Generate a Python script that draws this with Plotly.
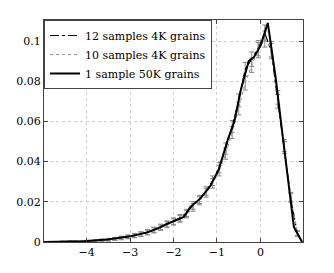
import plotly.graph_objects as go

# 1 sample 50K grains (solid)
x_50k = [-4.98, -4.5, -4.06, -3.52, -2.99, -2.6, -2.37, -2.18, -1.95, -1.76, -1.61, -1.38, -1.15,
         -0.96, -0.75, -0.6, -0.45, -0.27, -0.15, 0.0, 0.17, 0.35, 0.5, 0.62, 0.77, 0.96]
y_50k = [0.0, 0.0002, 0.0004, 0.0012, 0.0029, 0.0048, 0.0067, 0.0087, 0.0108, 0.0125, 0.0175, 0.0217, 0.028,
         0.036, 0.051, 0.060, 0.0758, 0.090, 0.092, 0.0975, 0.109, 0.082, 0.055, 0.033, 0.0075, 0.0]

# bins for the 4K-grain ensembles
x_bins = [-4.85, -4.7, -4.55, -4.4, -4.25, -4.1, -3.95, -3.8, -3.65, -3.5, -3.35, -3.2, -3.05, -2.9,
          -2.75, -2.6, -2.45, -2.3, -2.15, -2.0, -1.85, -1.7, -1.55, -1.4, -1.25, -1.1, -0.95, -0.8,
          -0.65, -0.5, -0.35, -0.2, -0.05, 0.1, 0.25, 0.4, 0.55, 0.7, 0.85]

# 12 samples 4K grains (dash-dot)
y_12 = [0.0001, 0.0001, 0.0002, 0.0003, 0.0003, 0.0004, 0.0005, 0.0007, 0.0009, 0.0012, 0.0016, 0.0021,
        0.0026, 0.0033, 0.0040, 0.0050, 0.0061, 0.0075, 0.0090, 0.0104, 0.0120, 0.0145, 0.0182, 0.0212,
        0.0253, 0.0305, 0.0370, 0.0465, 0.0575, 0.0705, 0.0860, 0.0910, 0.0965, 0.1040, 0.0950, 0.0700,
        0.0470, 0.0220, 0.0040]
e_12 = [0.0001, 0.0001, 0.0002, 0.0002, 0.0002, 0.0003, 0.0003, 0.0004, 0.0005, 0.0006, 0.0007, 0.0008,
        0.0009, 0.0010, 0.0011, 0.0012, 0.0013, 0.0014, 0.0015, 0.0016, 0.0017, 0.0018, 0.0019, 0.0020,
        0.0022, 0.0024, 0.0026, 0.0028, 0.0030, 0.0032, 0.0034, 0.0036, 0.0038, 0.0040, 0.0038, 0.0034,
        0.0030, 0.0022, 0.0012]

# 10 samples 4K grains (dotted)
y_10 = [0.0001, 0.0001, 0.0002, 0.0002, 0.0003, 0.0004, 0.0005, 0.0006, 0.0009, 0.0011, 0.0015, 0.0019,
        0.0025, 0.0031, 0.0038, 0.0047, 0.0058, 0.0071, 0.0086, 0.0100, 0.0115, 0.0138, 0.0172, 0.0205,
        0.0245, 0.0292, 0.0355, 0.0440, 0.0545, 0.0665, 0.0790, 0.0880, 0.0955, 0.1010, 0.0960, 0.0720,
        0.0480, 0.0225, 0.0045]
e_10 = [0.0001, 0.0001, 0.0002, 0.0002, 0.0002, 0.0003, 0.0003, 0.0004, 0.0005, 0.0006, 0.0007, 0.0008,
        0.0009, 0.0010, 0.0011, 0.0012, 0.0013, 0.0014, 0.0015, 0.0016, 0.0017, 0.0018, 0.0019, 0.0020,
        0.0022, 0.0024, 0.0026, 0.0028, 0.0030, 0.0032, 0.0034, 0.0036, 0.0038, 0.0040, 0.0038, 0.0034,
        0.0030, 0.0022, 0.0012]

x_ticks = [-4, -3, -2, -1, 0]
y_ticks = [0, 0.02, 0.04, 0.06, 0.08, 0.1]
y_ticklabels = ["0", "0.02", "0.04", "0.06", "0.08", "0.1"]

font_family = "DejaVu Serif"
err_color = "#8a8a8a"

fig = go.Figure()
fig.add_trace(go.Scatter(
    x=x_bins, y=y_12, mode="lines", name="12 samples 4K grains",
    line=dict(color="black", width=1.2, dash="dashdot"),
    error_y=dict(type="data", array=e_12, color=err_color, thickness=1, width=2.5),
))
fig.add_trace(go.Scatter(
    x=x_bins, y=y_10, mode="lines", name="10 samples 4K grains",
    line=dict(color="#9a9a9a", width=1.2, dash="dot"),
    error_y=dict(type="data", array=e_10, color=err_color, thickness=1, width=2.5),
))
fig.add_trace(go.Scatter(
    x=x_50k, y=y_50k, mode="lines", name="1 sample 50K grains",
    line=dict(color="black", width=2),
))

axis_common = dict(
    showline=True, linecolor="#444", linewidth=1, mirror="ticks",
    ticks="inside", ticklen=4, tickcolor="#444",
    showgrid=True, gridcolor="#d0d0d0", griddash="dot", gridwidth=1,
    zeroline=False, automargin=False,
    tickfont=dict(family=font_family, size=11, color="black"),
)

fig.update_layout(
    width=334, height=273,
    margin=dict(l=36, r=39, t=12, b=39),
    paper_bgcolor="white", plot_bgcolor="white",
    font=dict(family=font_family, size=11, color="black"),
    xaxis=dict(range=[-4.98, 0.98], tickvals=x_ticks, **axis_common),
    yaxis=dict(range=[0, 0.1105], tickvals=y_ticks, ticktext=y_ticklabels, **axis_common),
    legend=dict(
        x=0.0, y=1.0, xanchor="left", yanchor="top",
        bgcolor="white", bordercolor="#444", borderwidth=1,
        font=dict(family=font_family, size=11, color="black"),
        tracegroupgap=0, itemwidth=30,
    ),
    showlegend=True,
)

fig.write_html("out.html")
